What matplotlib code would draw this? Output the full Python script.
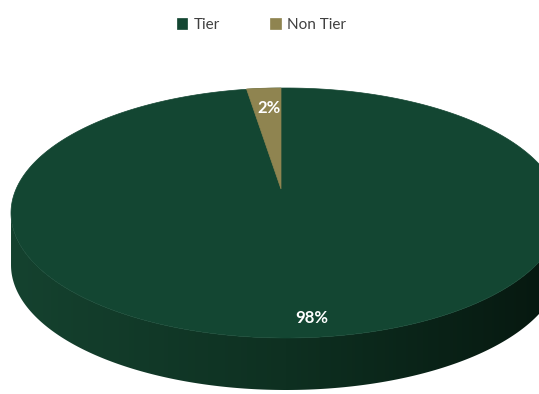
"""
3D-style pie chart: Tier vs Non Tier share.
"""

import matplotlib as mpl

mpl.use("Agg")

import matplotlib.pyplot as plt
import numpy as np
from matplotlib.colors import LinearSegmentedColormap
from matplotlib.patches import Polygon

plt.rcParams["font.family"] = ["Lato", "DejaVu Sans"]

categories = ["Tier", "Non Tier"]
shares = [98, 2]
labels = ["98%", "2%"]
colors = ["#134632", "#8f8450"]

# geometry in pixels
W, H = 539, 394
cx, cy = 286, 213
rx, ry = 275, 125
depth = 52
apex_shift = 24  # perspective: wedge apex sits above the ellipse centre


def rim(t):
    return cx + rx * np.cos(t), cy + ry * np.sin(t)


fig = plt.figure(figsize=(W / 100, H / 100), dpi=100)
ax = fig.add_axes([0, 0, 1, 1])
ax.set_xlim(0, W)
ax.set_ylim(H, 0)
ax.axis("off")

# side wall (front half), shaded with a horizontal gradient
t_front = np.linspace(0, np.pi, 200)
xs, ys = rim(t_front)
side_pts = np.concatenate(
    [np.column_stack([xs, ys]), np.column_stack([xs[::-1], ys[::-1] + depth])]
)
side = Polygon(side_pts, closed=True, facecolor="none", edgecolor="none")
ax.add_patch(side)
cmap = LinearSegmentedColormap.from_list("side", ["#15422f", "#0e3021", "#06170f"])
grad = np.linspace(0, 1, 256).reshape(1, -1)
img = ax.imshow(grad, cmap=cmap, extent=[cx - rx, cx + rx, cy + ry + depth, cy - 5],
                aspect="auto", zorder=1)
img.set_clip_path(side)

# top face, wedges start at 12 o'clock and go counter-clockwise
apex = (cx - 5, cy - apex_shift)
start = -np.pi / 2
fracs = np.array(shares[::-1], dtype=float) / sum(shares)
cols = colors[::-1]
names = categories[::-1]
handles = {}
for frac, col, name in zip(fracs, cols, names):
    end = start - 2 * np.pi * frac
    t = np.linspace(start, end, max(int(400 * frac), 4))
    px, py = rim(t)
    px = px - 5
    pts = np.vstack([[apex], np.column_stack([px, py])])
    patch = Polygon(pts, closed=True, facecolor=col, edgecolor=col, lw=0.5,
                    zorder=2, label=name)
    handles[name] = patch
    start = end

# full top ellipse first, then the small wedge on top of it
t_all = np.linspace(0, 2 * np.pi, 400)
ex, ey = rim(t_all)
ax.add_patch(Polygon(np.column_stack([ex, ey]), closed=True, facecolor=colors[0],
                     edgecolor=colors[0], lw=0.5, zorder=2))
ax.add_patch(handles[categories[1]])

ax.text(269, 108, labels[1], color="white", fontsize=12, fontweight="bold",
        ha="center", va="center", zorder=3)
ax.text(312, 318, labels[0], color="white", fontsize=12, fontweight="bold",
        ha="center", va="center", zorder=3)

ax.legend([handles[c] for c in categories], categories, loc="upper center",
          bbox_to_anchor=(0.485, 0.99), ncol=2, frameon=False, fontsize=11,
          handlelength=0.7, handleheight=0.7, handletextpad=0.4,
          columnspacing=3.3, labelcolor="#404040")

fig.savefig("out.png", dpi=100)
plt.close(fig)
